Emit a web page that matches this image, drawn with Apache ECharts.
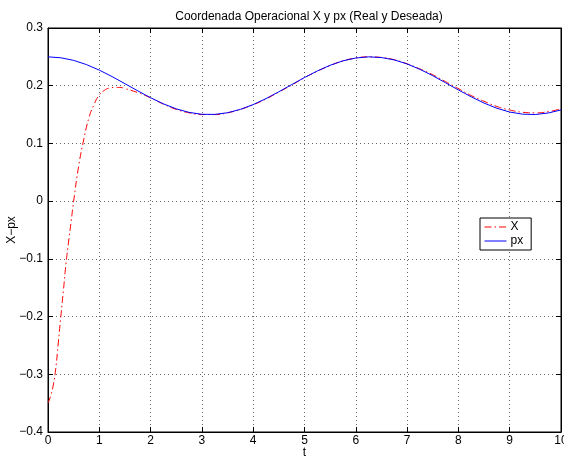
<!DOCTYPE html>
<html>
<head>
<meta charset="utf-8">
<script src="https://cdn.jsdelivr.net/npm/echarts@6/dist/echarts.min.js"></script>
<style>
  html, body { margin: 0; padding: 0; background: #fff; }
  #chart { width: 564px; height: 459px; }
</style>
</head>
<body>
<div id="chart"></div>
<script>
// Coordenada operacional X y px (real y deseada)

// px (deseada) - muestreo cada 0.25
const tPx = [0, 0.25, 0.5, 0.75, 1, 1.25, 1.5, 1.75, 2, 2.25, 2.5, 2.75, 3, 3.25, 3.5, 3.75, 4, 4.25, 4.5, 4.75,
  5, 5.25, 5.5, 5.75, 6, 6.25, 6.5, 6.75, 7, 7.25, 7.5, 7.75, 8, 8.25, 8.5, 8.75, 9, 9.25, 9.5, 9.75, 10];
const pxVals = [0.2500, 0.2484, 0.2439, 0.2366, 0.2270, 0.2158, 0.2035, 0.1911, 0.1792, 0.1686, 0.1599, 0.1538,
  0.1505, 0.1503, 0.1532, 0.1590, 0.1673, 0.1777, 0.1895, 0.2019, 0.2142, 0.2256, 0.2354, 0.2431, 0.2480,
  0.2500, 0.2488, 0.2447, 0.2377, 0.2284, 0.2173, 0.2051, 0.1927, 0.1808, 0.1699, 0.1609, 0.1544, 0.1507,
  0.1501, 0.1527, 0.1580];

// X (real)
const tX = [0, 0.05, 0.1, 0.15, 0.2, 0.25, 0.3, 0.35, 0.4, 0.45, 0.5, 0.6, 0.7, 0.8, 0.9, 1, 1.1, 1.2, 1.3, 1.4,
  1.5, 1.75, 2, 2.25, 2.5, 2.75, 3, 3.25, 3.5, 3.75, 4, 4.25, 4.5, 4.75, 5, 5.25, 5.5, 5.75, 6, 6.25, 6.5,
  6.75, 7, 7.25, 7.5, 7.75, 8, 8.25, 8.5, 8.75, 9, 9.25, 9.5, 9.75, 10];
const xVals = [-0.350, -0.338, -0.320, -0.291, -0.246, -0.200, -0.155, -0.109, -0.071, -0.036, 0.000, 0.062,
  0.108, 0.145, 0.168, 0.184, 0.192, 0.196, 0.197, 0.197, 0.195, 0.188, 0.179, 0.168, 0.159, 0.153, 0.150,
  0.150, 0.153, 0.159, 0.167, 0.177, 0.189, 0.201, 0.214, 0.225, 0.235, 0.243, 0.248, 0.250, 0.249, 0.245,
  0.238, 0.229, 0.219, 0.207, 0.195, 0.183, 0.173, 0.164, 0.158, 0.154, 0.153, 0.155, 0.160];

const font = 'Liberation Sans, Arial, Helvetica, sans-serif';
const minus = v => String(v).replace('-', '\u2212');

const myChart = echarts.init(document.getElementById('chart'));

const option = {
  backgroundColor: '#fff',
  animation: false,
  title: {
    text: 'Coordenada Operacional X y px (Real y Deseada)',
    left: 304,
    textAlign: 'center',
    top: 6,
    textStyle: { fontFamily: font, fontSize: 12, fontWeight: 'normal', color: '#000' }
  },
  grid: {
    left: 48, right: 3, top: 28, bottom: 27,
    containLabel: false,
    outerBoundsMode: 'none',
    show: true, borderColor: '#000', borderWidth: 1
  },
  legend: {
    orient: 'vertical',
    left: 480,
    top: 218,
    padding: [3, 8, 3, 4],
    itemGap: 2,
    itemWidth: 22,
    itemHeight: 10,
    backgroundColor: '#fff',
    borderColor: '#000',
    borderWidth: 1,
    borderRadius: 0,
    textStyle: { fontFamily: font, fontSize: 12, color: '#000', padding: [0, 0, 0, -1] },
    data: [
      { name: 'X', itemStyle: { opacity: 0 }, lineStyle: { color: '#ff0000', width: 1 } },
      { name: 'px', itemStyle: { opacity: 0 }, lineStyle: { color: '#0000ff', width: 1 } }
    ]
  },
  xAxis: [
    {
      type: 'value', min: 0, max: 10, interval: 1,
      name: 't', nameLocation: 'middle', nameGap: 15, nameMoveOverlap: false,
      nameTextStyle: { fontFamily: font, fontSize: 12, color: '#000', verticalAlign: 'top' },
      axisLine: { show: true, onZero: false, lineStyle: { color: '#000' } },
      axisTick: { inside: true, length: 5, lineStyle: { color: '#000' } },
      axisLabel: { fontFamily: font, fontSize: 12, color: '#000', margin: 3 },
      splitLine: { show: true, lineStyle: { color: '#666', type: [1, 3] } }
    },
    {
      type: 'value', min: 0, max: 10, interval: 1, position: 'top',
      axisLine: { show: true, onZero: false, lineStyle: { color: '#000' } },
      axisTick: { inside: true, length: 5, lineStyle: { color: '#000' } },
      axisLabel: { show: false },
      splitLine: { show: false }
    }
  ],
  yAxis: [
    {
      type: 'value', min: -0.4, max: 0.3, interval: 0.1,
      name: 'X\u2212px', nameLocation: 'middle', nameGap: 30, nameMoveOverlap: false,
      nameTextStyle: { fontFamily: font, fontSize: 12, color: '#000' },
      axisLine: { show: true, onZero: false, lineStyle: { color: '#000' } },
      axisTick: { inside: true, length: 5, lineStyle: { color: '#000' } },
      axisLabel: {
        fontFamily: font, fontSize: 12, color: '#000', margin: 5,
        formatter: v => minus(Math.round(v * 10) / 10)
      },
      splitLine: { show: true, lineStyle: { color: '#666', type: [1, 3] } }
    },
    {
      type: 'value', min: -0.4, max: 0.3, interval: 0.1, position: 'right',
      axisLine: { show: true, onZero: false, lineStyle: { color: '#000' } },
      axisTick: { inside: true, length: 5, lineStyle: { color: '#000' } },
      axisLabel: { show: false },
      splitLine: { show: false }
    }
  ],
  series: [
    {
      name: 'X',
      type: 'line',
      showSymbol: false,
      symbol: 'none',
      smooth: true,
      data: tX.map((t, i) => [t, xVals[i]]),
      lineStyle: { color: '#ff0000', width: 1, type: [7, 3, 1.5, 3] },
      itemStyle: { color: '#ff0000' },
      z: 3
    },
    {
      name: 'px',
      type: 'line',
      showSymbol: false,
      symbol: 'none',
      data: tPx.map((t, i) => [t, pxVals[i]]),
      lineStyle: { color: '#0000ff', width: 1, type: 'solid' },
      itemStyle: { color: '#0000ff' },
      z: 4
    }
  ]
};

myChart.setOption(option);
</script>
</body>
</html>
